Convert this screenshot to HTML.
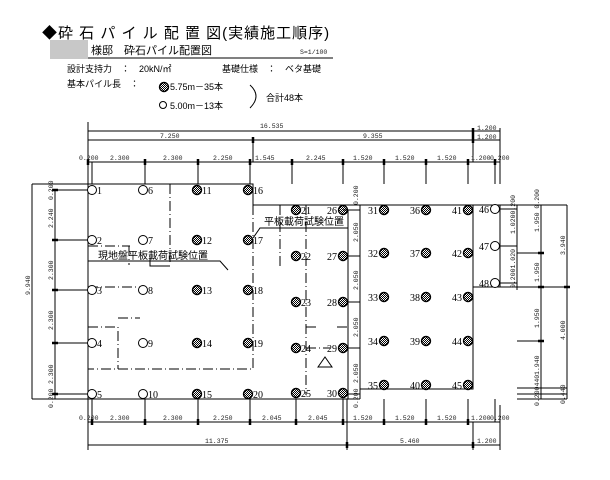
<!DOCTYPE html>
<html><head><meta charset="utf-8">
<style>
html,body{margin:0;padding:0;background:#fff;}
svg{display:block;font-family:"Liberation Serif","Noto Serif CJK SC","Noto Sans CJK JP",serif;}
.s{font-family:"Liberation Sans","Noto Sans CJK JP",sans-serif;}
.d{font-size:6.5px;font-family:"Liberation Mono",monospace;fill:#222;}
.n{font-size:10px;}
</style></head><body>
<svg width="610" height="480" viewBox="0 0 610 480" xmlns="http://www.w3.org/2000/svg">
<defs>
<pattern id="h" width="2" height="2" patternUnits="userSpaceOnUse"><rect width="1" height="1" fill="#000"/><rect x="1" y="1" width="1" height="1" fill="#000"/></pattern>
<g id="p"><circle r="4.5" fill="url(#h)" stroke="#000" stroke-width="1.4"/></g>
<g id="o"><circle r="4.5" fill="#fff" stroke="#000" stroke-width="1"/></g>
</defs>
<!-- header -->
<text x="42" y="38" font-size="15" class="s" letter-spacing="1">◆砕 石 パ イ ル 配 置 図(実績施工順序)</text>
<rect x="50" y="40" width="38" height="19" fill="#c8c8c8"/>
<text x="91" y="54" font-size="11" class="s">様邸　砕石パイル配置図</text>
<text x="300" y="54" font-size="6" class="d">S=1/100</text>
<line x1="88" y1="58" x2="333" y2="58" stroke="#000" stroke-width="1"/>
<text x="67" y="72" font-size="9" class="s">設計支持力　：　20kN/㎡</text>
<text x="222" y="72" font-size="9" class="s">基礎仕様　：　ベタ基礎</text>
<text x="67" y="87" font-size="9" class="s">基本パイル長　：</text>
<use href="#p" x="164" y="87"/>
<text x="170" y="90" font-size="9" class="s">5.75m－35本</text>
<circle cx="163" cy="105" r="3.5" fill="none" stroke="#000"/>
<text x="170" y="109" font-size="9" class="s">5.00m－13本</text>
<path d="M250 85 Q262 96 250 108" fill="none" stroke="#000"/>
<text x="266" y="101" font-size="9" class="s">合計48本</text>

<g stroke="#000" stroke-width="1" fill="none">
<path d="M88 184 H253 V205 H567"/>
<path d="M88 184 V399 H360"/>
<path d="M360 205 V399"/>
<path d="M348 210 V399"/>
<path d="M360 389 H473 V205"/>
<path d="M473 287 H567"/>
<path d="M500 205 V287"/>
<path d="M343 210 H360"/>
<g stroke-dasharray="10,3,1,3">
<path d="M170 184 V265"/>
<path d="M253 205 V369 H88"/>
<path d="M280 205 V266"/>
<path d="M306 205 V395"/>
<path d="M88 246 H130 M129 246 V265"/>
<path d="M88 287 H140"/>
<path d="M88 327 H118 V369 M118 318 H140"/>
<path d="M306 327 H316 M337 327 H348"/>
<path d="M306 348 H330"/>
</g>
<path d="M150 258 V266 H170"/>
<path d="M88 261 H220 L228 270"/>
<path d="M348 228 H260 L253 238"/>
<path d="M318 367 L325 357 L332 367 Z"/>
<path d="M88 122 V184 M88 131 H473 M88 140 H473 M88 162 H500 M473 131 H500 M473 140 H500"/>
<path d="M253 140 V162 M473 128 V162 M500 128 V184"/>
<path d="M92 162 V184 M145 162 V184 M198 162 V184 M250 162 V184 M292 162 V184 M343 162 V184 M384 162 V184 M426 162 V184 M468 162 V184 M495 162 V184"/>
<path d="M88 399 V450 M88 422 H500 M88 445 H500 M347 399 V450 M473 422 V450 M500 405 V450"/>
<path d="M92 399 V422 M145 399 V422 M198 399 V422 M250 399 V422 M296 399 V422 M343 399 V422 M384 399 V422 M426 399 V422 M468 399 V422 M495 399 V422"/>
<path d="M32 184 H88 M32 184 V399 M55 190 V399 M32 399 H88"/>
<path d="M55 190 H92 M55 240 H92 M55 290 H92 M55 343 H92 M55 394 H92"/>
<path d="M348 205 H360 M348 256 H360 M348 302 H360 M348 348 H360 M348 394 H360"/>
<path d="M500 209 H517 M500 246 H517 M500 283 H517 M517 205 V290"/>
<path d="M500 205 H567 M541 205 V399 M567 205 V399 M517 253 H541 M517 341 H541 M517 388 H567 M517 394 H567 M517 399 H567"/>
</g>
<g stroke="#000" stroke-width="2.5">
<path d="M88 159 V165 M145 159 V165 M198 159 V165 M250 159 V165 M292 159 V165 M343 159 V165 M384 159 V165 M426 159 V165 M468 159 V165 M495 159 V165 M253 137 V143 M473 128 V143"/>
<path d="M92 419 V425 M145 419 V425 M198 419 V425 M250 419 V425 M296 419 V425 M343 419 V425 M384 419 V425 M426 419 V425 M468 419 V425 M347 442 V448 M473 442 V448"/>
<path d="M52 240 H58 M52 290 H58 M52 343 H58 M52 394 H58 M52 190 H58 M538 253 H544 M538 341 H544 M538 287 H544 M564 287 H570"/>
</g>
<g class="d">
<text x="260" y="128">16.535</text>
<text x="160" y="138">7.250</text>
<text x="363" y="138">9.355</text>
<text x="477" y="130">1.200</text><text x="477" y="139">1.200</text>
<text x="79" y="160">0.200</text><text x="110" y="160">2.300</text><text x="163" y="160">2.300</text><text x="213" y="160">2.250</text><text x="255" y="160">1.545</text><text x="306" y="160">2.245</text><text x="353" y="160">1.520</text><text x="395" y="160">1.520</text><text x="437" y="160">1.520</text><text x="471" y="160">1.200</text><text x="490" y="160">0.200</text>
<text x="79" y="420">0.200</text><text x="110" y="420">2.300</text><text x="163" y="420">2.300</text><text x="213" y="420">2.250</text><text x="262" y="420">2.045</text><text x="308" y="420">2.045</text><text x="353" y="420">1.520</text><text x="395" y="420">1.520</text><text x="437" y="420">1.520</text><text x="471" y="420">1.200</text><text x="490" y="420">0.200</text>
<text x="205" y="443">11.375</text><text x="400" y="443">5.460</text><text x="477" y="443">1.200</text>
<text transform="translate(30,295) rotate(-90)">9.940</text>
<text transform="translate(53,200) rotate(-90)">0.200</text>
<text transform="translate(53,228) rotate(-90)">2.240</text>
<text transform="translate(53,280) rotate(-90)">2.300</text>
<text transform="translate(53,330) rotate(-90)">2.300</text>
<text transform="translate(53,384) rotate(-90)">2.300</text>
<text transform="translate(53,408) rotate(-90)">0.200</text>
<text transform="translate(358,205) rotate(-90)">0.200</text>
<text transform="translate(358,242) rotate(-90)">2.050</text>
<text transform="translate(358,290) rotate(-90)">2.050</text>
<text transform="translate(358,337) rotate(-90)">2.050</text>
<text transform="translate(358,383) rotate(-90)">2.050</text>
<text transform="translate(358,408) rotate(-90)">0.200</text>
<text transform="translate(515,234) rotate(-90)">1.0200.200</text>
<text transform="translate(515,288) rotate(-90)">0.2001.020</text>
<text transform="translate(539,232) rotate(-90)">1.950 0.200</text>
<text transform="translate(539,282) rotate(-90)">1.950</text>
<text transform="translate(539,328) rotate(-90)">1.950</text>
<text transform="translate(539,375) rotate(-90)">1.940</text>
<text transform="translate(539,406) rotate(-90)">0.200440</text>
<text transform="translate(565,255) rotate(-90)">3.940</text>
<text transform="translate(565,340) rotate(-90)">4.000</text>
<text transform="translate(565,404) rotate(-90)">0.440</text>
</g>
<text x="98" y="259" font-size="10" class="s">現地盤平板載荷試験位置</text>
<text x="264" y="225" font-size="10" class="s">平板載荷試験位置</text>
<g class="n">
<use href="#o" x="92" y="190"/><text x="97" y="194">1</text>
<use href="#o" x="92" y="240"/><text x="97" y="244">2</text>
<use href="#o" x="92" y="290"/><text x="97" y="294">3</text>
<use href="#o" x="92" y="343"/><text x="97" y="347">4</text>
<use href="#o" x="92" y="394"/><text x="97" y="398">5</text>
<use href="#o" x="143" y="190"/><text x="148" y="194">6</text>
<use href="#o" x="143" y="240"/><text x="148" y="244">7</text>
<use href="#o" x="143" y="290"/><text x="148" y="294">8</text>
<use href="#o" x="143" y="343"/><text x="148" y="347">9</text>
<use href="#o" x="143" y="394"/><text x="148" y="398">10</text>
<use href="#p" x="197" y="190"/><text x="202" y="194">11</text>
<use href="#p" x="197" y="240"/><text x="202" y="244">12</text>
<use href="#p" x="197" y="290"/><text x="202" y="294">13</text>
<use href="#p" x="197" y="343"/><text x="202" y="347">14</text>
<use href="#p" x="197" y="394"/><text x="202" y="398">15</text>
<use href="#p" x="248" y="190"/><text x="253" y="194">16</text>
<use href="#p" x="248" y="240"/><text x="253" y="244">17</text>
<use href="#p" x="248" y="290"/><text x="253" y="294">18</text>
<use href="#p" x="248" y="343"/><text x="253" y="347">19</text>
<use href="#p" x="248" y="394"/><text x="253" y="398">20</text>
<use href="#p" x="296" y="210"/><text x="301" y="214">21</text>
<use href="#p" x="296" y="256"/><text x="301" y="260">22</text>
<use href="#p" x="296" y="302"/><text x="301" y="306">23</text>
<use href="#p" x="296" y="348"/><text x="301" y="352">24</text>
<use href="#p" x="296" y="393"/><text x="301" y="397">25</text>
<use href="#p" x="343" y="210"/><text x="327" y="214">26</text>
<use href="#p" x="343" y="256"/><text x="327" y="260">27</text>
<use href="#p" x="343" y="302"/><text x="327" y="306">28</text>
<use href="#p" x="343" y="348"/><text x="327" y="352">29</text>
<use href="#p" x="343" y="393"/><text x="327" y="397">30</text>
<use href="#p" x="384" y="210"/><text x="368" y="214">31</text>
<use href="#p" x="384" y="253"/><text x="368" y="257">32</text>
<use href="#p" x="384" y="297"/><text x="368" y="301">33</text>
<use href="#p" x="384" y="341"/><text x="368" y="345">34</text>
<use href="#p" x="384" y="385"/><text x="368" y="389">35</text>
<use href="#p" x="426" y="210"/><text x="410" y="214">36</text>
<use href="#p" x="426" y="253"/><text x="410" y="257">37</text>
<use href="#p" x="426" y="297"/><text x="410" y="301">38</text>
<use href="#p" x="426" y="341"/><text x="410" y="345">39</text>
<use href="#p" x="426" y="385"/><text x="410" y="389">40</text>
<use href="#p" x="468" y="210"/><text x="452" y="214">41</text>
<use href="#p" x="468" y="253"/><text x="452" y="257">42</text>
<use href="#p" x="468" y="297"/><text x="452" y="301">43</text>
<use href="#p" x="468" y="341"/><text x="452" y="345">44</text>
<use href="#p" x="468" y="385"/><text x="452" y="389">45</text>
<use href="#o" x="495" y="209"/><text x="479" y="213">46</text>
<use href="#o" x="495" y="246"/><text x="479" y="250">47</text>
<use href="#o" x="495" y="283"/><text x="479" y="287">48</text>
</g>
</svg>
</body></html>
